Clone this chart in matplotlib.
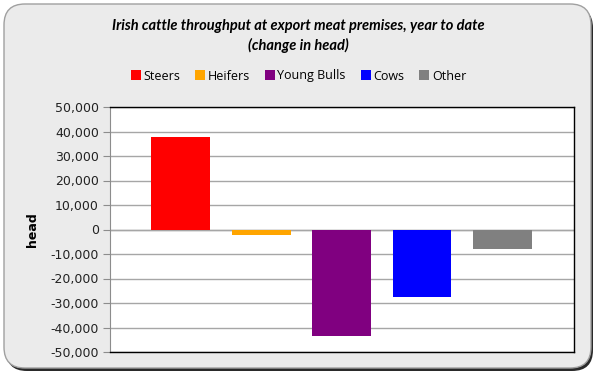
import matplotlib.pyplot as plt
from matplotlib.patches import FancyBboxPatch, Patch
from matplotlib.ticker import FuncFormatter

# chart data
categories = ['Steers', 'Heifers', 'Young Bulls', 'Cows', 'Other']
change = [37800, -2300, -43600, -27700, -8000]
colors = ['#ff0000', '#ffa500', '#800080', '#0000ff', '#808080']
yticks = list(range(-50000, 50001, 10000))

W, H = 597, 374
fig = plt.figure(figsize=(W / 100, H / 100), dpi=100)
fig.patch.set_facecolor('white')

# rounded panel with a dark shadow at bottom right
shadow = FancyBboxPatch((6 / W, 3 / H), 587 / W, 364 / H,
                        boxstyle='round,pad=0,rounding_size=0.035',
                        transform=fig.transFigure, facecolor='#2a2a2a',
                        edgecolor='none', mutation_aspect=W / H, zorder=-2)
panel = FancyBboxPatch((4 / W, 6 / H), 587 / W, 364 / H,
                       boxstyle='round,pad=0,rounding_size=0.035',
                       transform=fig.transFigure, facecolor='#ebebeb',
                       edgecolor='#a0a0a0', linewidth=1.0,
                       mutation_aspect=W / H, zorder=-1)
fig.patches.extend([shadow, panel])

ax = fig.add_axes([110 / W, 1 - 352 / H, 464 / W, 245 / H])
ax.set_facecolor('white')

x = list(range(len(categories)))
ax.bar(x, change, width=0.73, color=colors, zorder=3)

ax.set_xlim(-0.88, len(categories) - 1 + 0.89)
ax.set_ylim(-50000, 50000)
ax.set_yticks(yticks)
ax.yaxis.set_major_formatter(FuncFormatter(lambda v, p: f'{int(v):,}'))
ax.set_xticks([])
ax.grid(axis='y', color='#a6a6a6', linewidth=1.0, zorder=1)
ax.axhline(0, color='#a6a6a6', linewidth=1.0, zorder=2)

for side in ['top', 'right', 'bottom']:
    ax.spines[side].set_color('black')
    ax.spines[side].set_linewidth(1.0)
ax.spines['left'].set_color('#8c8c8c')
ax.tick_params(axis='y', length=5, color='#8c8c8c', labelsize=9,
               labelcolor='#222222', pad=3)

ax.set_ylabel('head', fontsize=9, fontweight='bold', labelpad=8)

fig.text(0.5, 1 - 26 / H,
         'Irish cattle throughput at export meat premises, year to date',
         ha='center', va='center', fontsize=10.5, fontstyle='italic',
         fontweight='bold', family='Lato')
fig.text(0.5, 1 - 45 / H, '(change in head)', ha='center', va='center',
         fontsize=10.5, fontstyle='italic', fontweight='bold',
         family='Lato')

handles = [Patch(facecolor=c, edgecolor='none') for c in colors]
fig.legend(handles, categories, loc='center', bbox_to_anchor=(0.5, 1 - 76 / H),
           ncol=5, frameon=False, handlelength=0.8,
           handleheight=0.8, handletextpad=0.2, columnspacing=1.2,
           prop={'family': 'Open Sans', 'size': 9})

fig.savefig('out.png', dpi=100)
